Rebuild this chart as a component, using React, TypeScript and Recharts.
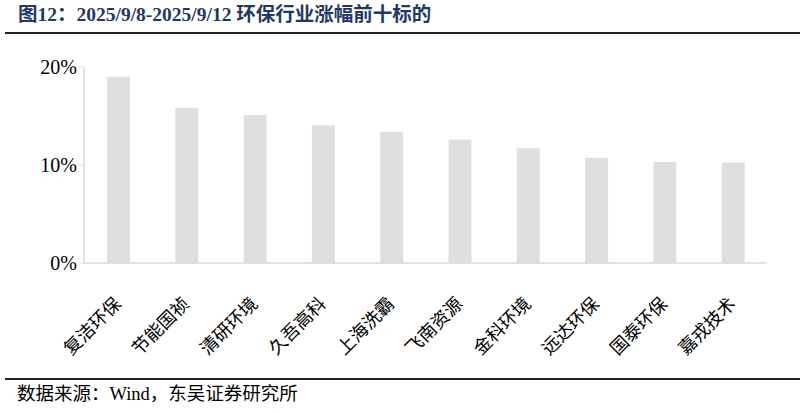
import React from "react";
import { BarChart, Bar, XAxis, YAxis } from "recharts";

// 标的名称
const stocks = [
  "复洁环保",
  "节能国祯",
  "清研环境",
  "久吾高科",
  "上海洗霸",
  "飞南资源",
  "金科环境",
  "远达环保",
  "国泰环保",
  "嘉戎技术",
];

// 周涨幅
const gains = [0.19, 0.1585, 0.151, 0.1405, 0.134, 0.126, 0.117, 0.1075, 0.103, 0.1025];

const yTicks = [0, 0.1, 0.2];

const data = stocks.map((name, i) => ({ name, gain: gains[i] }));

const serif = '"Times New Roman", "Liberation Serif", "Noto Sans CJK SC", serif';

function StockTick(props: any) {
  const { x, y, payload } = props;
  const px = x + 4;
  const py = y + 34;
  return (
    <text
      x={px}
      y={py}
      transform={`rotate(-45, ${px}, ${py})`}
      textAnchor="end"
      fontSize={18}
      fill="#000"
      fontFamily={serif}
    >
      {payload.value}
    </text>
  );
}

export default function App() {
  return (
    <div
      style={{
        position: "absolute",
        left: 0,
        top: 0,
        width: 805,
        height: 413,
        background: "#fff",
        fontFamily: serif,
      }}
    >
      {/* 标题 */}
      <div
        style={{
          position: "absolute",
          left: 18,
          top: 3,
          fontSize: 19.5,
          fontWeight: "bold",
          color: "#1f3864",
          whiteSpace: "nowrap",
          lineHeight: "24px",
        }}
      >
        图12：2025/9/8-2025/9/12 环保行业涨幅前十标的
      </div>
      <div
        style={{
          position: "absolute",
          left: 5,
          top: 32,
          width: 795,
          height: 2,
          background: "#222",
        }}
      />

      <div style={{ position: "absolute", left: 0, top: 0 }}>
        <BarChart
          width={805}
          height={375}
          data={data}
          margin={{ top: 67, right: 38, left: 0, bottom: 0 }}
          barSize={23}
        >
          <XAxis
            dataKey="name"
            height={112}
            interval={0}
            tick={<StockTick />}
            tickLine={false}
            axisLine={{ stroke: "#d9d9d9", strokeWidth: 1.5 }}
          />
          <YAxis
            width={84}
            domain={[0, 0.2]}
            ticks={yTicks}
            interval={0}
            tickFormatter={(v: number) => `${Math.round(v * 100)}%`}
            tick={{ fontSize: 20, fill: "#000", fontFamily: serif }}
            tickSize={5}
            tickLine={{ stroke: "#d9d9d9" }}
            axisLine={{ stroke: "#d9d9d9", strokeWidth: 1.5 }}
          />
          <Bar dataKey="gain" fill="#dfdfdf" isAnimationActive={false} />
        </BarChart>
      </div>

      {/* 数据来源 */}
      <div
        style={{
          position: "absolute",
          left: 5,
          top: 378,
          width: 795,
          height: 2,
          background: "#222",
        }}
      />
      <div
        style={{
          position: "absolute",
          left: 17,
          top: 383,
          fontSize: 18.5,
          color: "#000",
          whiteSpace: "nowrap",
          lineHeight: "22px",
        }}
      >
        数据来源：Wind，东吴证券研究所
      </div>
    </div>
  );
}
